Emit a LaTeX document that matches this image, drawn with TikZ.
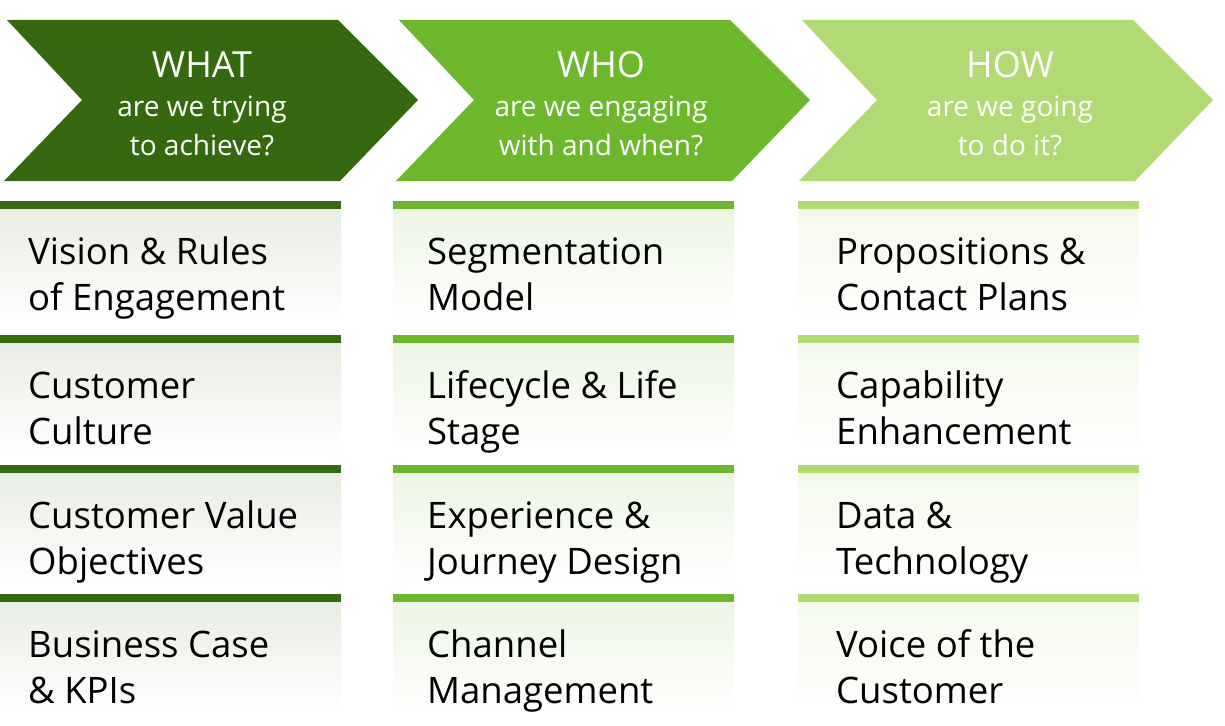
\documentclass[tikz,border=0pt]{standalone}
\usepackage{fontspec}
\setmainfont{Open Sans}
\definecolor{cdark}{HTML}{36680F}
\definecolor{cmid}{HTML}{6DB72D}
\definecolor{clight}{HTML}{B2DA74}
\definecolor{tdark}{HTML}{E8EDE3}
\definecolor{tmid}{HTML}{EDF5E4}
\definecolor{tlight}{HTML}{F4F9EC}
\newcommand\subsize{\fontsize{28}{39}\selectfont}
\tikzset{
  headtext/.style={text=white, align=center, inner sep=0pt, anchor=base,
    font=\fontsize{36}{40}\selectfont},
  celltext/.style={text=black, align=left, inner sep=0pt, anchor=base west,
    font=\fontsize{36.5}{46}\selectfont},
}
\newcommand\mkchevron[5]{% name, left x, text x, colour, text
  \fill[#4] (#2+3,20) -- (#2+334,20) -- (#2+414,100) -- (#2+336,181)
     -- (#2,181) -- (#2+78,100) -- cycle;
  \node[headtext] (#1) at (#3,155) {#5};
}
\newcommand\mkcell[7]{% name, box x, text x, bar top, box bottom, colour, text
  \fill[c#6] (#2,#4) rectangle ++(341,8);
  \shade[top color=t#6, bottom color=white] (#2,#4+8) rectangle (#2+341,#5);
  \node[celltext] (#1) at (#3,#4+109) {#7};
}
\begin{document}
\begin{tikzpicture}[x=1pt,y=-1pt]
\useasboundingbox (0,0) rectangle (1225,725);
\fill[white] (0,0) rectangle (1225,725);
\mkchevron{what}{4}{202}{cdark}{WHAT\\[-1pt]{\subsize are we trying}\\[-1pt]{\subsize to achieve?}}
\mkchevron{who}{396}{601}{cmid}{WHO\\[-1pt]{\subsize are we engaging}\\[-1pt]{\subsize with and when?}}
\mkchevron{how}{799}{1010}{clight}{HOW\\[-1pt]{\subsize are we going}\\[-1pt]{\subsize to do it?}}
% column 1
\mkcell{a1}{0}{28}{201}{324}{dark}{Vision \& Rules\\of Engagement}
\mkcell{a2}{0}{28}{335}{454}{dark}{Customer\\Culture}
\mkcell{a3}{0}{28}{465}{583}{dark}{Customer Value\\Objectives}
\mkcell{a4}{0}{28}{594}{713}{dark}{Business Case\\\& KPIs}
% column 2
\mkcell{b1}{393}{427}{201}{324}{mid}{Segmentation\\Model}
\mkcell{b2}{393}{427}{335}{454}{mid}{Lifecycle \& Life\\Stage}
\mkcell{b3}{393}{427}{465}{583}{mid}{Experience \&\\Journey Design}
\mkcell{b4}{393}{427}{594}{713}{mid}{Channel\\Management}
% column 3
\mkcell{c1}{798}{836}{201}{324}{light}{Propositions \&\\Contact Plans}
\mkcell{c2}{798}{836}{335}{454}{light}{Capability\\Enhancement}
\mkcell{c3}{798}{836}{465}{583}{light}{Data \&\\Technology}
\mkcell{c4}{798}{836}{594}{713}{light}{Voice of the\\Customer}
\end{tikzpicture}
\end{document}
